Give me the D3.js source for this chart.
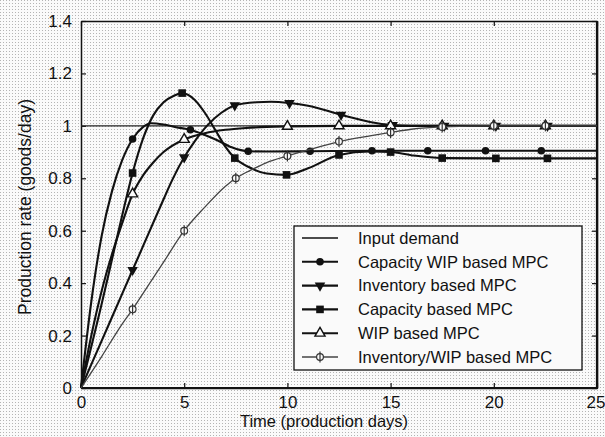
<!DOCTYPE html>
<meta charset="utf-8">
<style>
    body { margin: 0; background: #fff; }
    svg text { font-family: "Liberation Sans", Arial, Helvetica, sans-serif; fill: #111; }
</style>
<script src="https://cdn.jsdelivr.net/npm/d3@7/dist/d3.min.js"></script>
<body>
<script>
// values (time in production days, rate in goods/day)
var demandT = [0, 25];
var demandV = [1, 1];

var capWipT = [0, 0.5, 1, 1.5, 2, 2.5, 3, 3.4, 4, 4.6, 5.3, 6, 6.6, 7.3, 8.1, 9, 11.1, 14.1, 16.8, 19.6, 22.3, 25];
var capWipV = [0, 0.33, 0.58, 0.75, 0.87, 0.95, 0.995, 1.01, 1.005, 0.995, 0.985, 0.965, 0.945, 0.918, 0.903, 0.902, 0.903, 0.905, 0.905, 0.905, 0.905, 0.905];
var capWipMarks = [2.5, 5.3, 8.1, 11.1, 14.1, 16.8, 19.6, 22.3];

var invT = [0, 1, 2, 2.5, 3, 4, 4.4, 5, 5.5, 6.1, 6.8, 7.45, 8.5, 9.2, 10.1, 11, 12.6, 14, 15.1, 16, 17.6, 20.1, 22.6, 25];
var invV = [0, 0.18, 0.36, 0.45, 0.54, 0.72, 0.79, 0.88, 0.94, 1.0, 1.05, 1.078, 1.09, 1.092, 1.087, 1.077, 1.042, 1.015, 1.003, 1.0, 1.0, 1.0, 1.0, 1.0];
var invMarks = [2.5, 5, 7.45, 10.1, 12.6, 15.1, 17.6, 20.1, 22.6];

var capT = [0, 1, 1.5, 2, 2.5, 3, 3.5, 4, 4.5, 4.9, 5.5, 6, 6.5, 7, 7.45, 8.2, 9, 9.96, 11, 12.5, 14, 15, 16, 17.5, 20.1, 22.6, 25];
var capV = [0, 0.32, 0.49, 0.66, 0.82, 0.95, 1.04, 1.09, 1.115, 1.125, 1.1, 1.05, 0.985, 0.92, 0.877, 0.84, 0.818, 0.813, 0.838, 0.889, 0.902, 0.9, 0.888, 0.877, 0.876, 0.876, 0.876];
var capMarks = [2.5, 4.9, 7.45, 9.96, 12.5, 15, 17.5, 20.1, 22.6];

var wipT = [0, 0.5, 1, 1.5, 2, 2.5, 3, 3.5, 4, 5, 6, 7, 8, 9, 10, 12.5, 15, 17.5, 20, 22.5, 25];
var wipV = [0, 0.2, 0.37, 0.51, 0.63, 0.74, 0.81, 0.86, 0.9, 0.948, 0.972, 0.985, 0.992, 0.996, 0.998, 1, 1, 1, 1, 1, 1];
var wipMarks = [2.5, 5, 7.5, 10, 12.5, 15, 17.5, 20, 22.5];

var invWipT = [0, 1, 2, 2.5, 3, 4, 5, 6, 7, 7.5, 8.2, 9, 10, 11, 12.5, 14, 15, 16, 17.5, 20, 22.5, 25];
var invWipV = [0, 0.12, 0.245, 0.3, 0.36, 0.48, 0.6, 0.69, 0.77, 0.8, 0.83, 0.86, 0.885, 0.908, 0.94, 0.962, 0.975, 0.987, 0.996, 1, 1, 1];
var invWipMarks = [2.5, 5, 7.5, 10, 12.5, 15, 17.5, 20, 22.5];

var xTicks = [0, 5, 10, 15, 20, 25];
var yTicks = [0, 0.2, 0.4, 0.6, 0.8, 1, 1.2, 1.4];

var series = [
    {name: "Capacity WIP based MPC", t: capWipT, v: capWipV, marks: capWipMarks, sym: "circle"},
    {name: "Inventory based MPC", t: invT, v: invV, marks: invMarks, sym: "down"},
    {name: "Capacity based MPC", t: capT, v: capV, marks: capMarks, sym: "square"},
    {name: "WIP based MPC", t: wipT, v: wipV, marks: wipMarks, sym: "up"},
    {name: "Inventory/WIP based MPC", t: invWipT, v: invWipV, marks: invWipMarks, sym: "phi"}
];

var W = 605, H = 437;
var plotL = 81, plotR = 597, plotT = 21, plotB = 388;

var svg = d3.select("body").append("svg")
    .attr("width", W)
    .attr("height", H);

// halftone look of the scanned page
var pat = svg.append("defs").append("pattern")
    .attr("id", "dots")
    .attr("width", 3).attr("height", 3)
    .attr("patternUnits", "userSpaceOnUse");
pat.append("rect").attr("width", 3).attr("height", 3).attr("fill", "#fafafa");
pat.append("rect").attr("width", 1).attr("height", 1).attr("fill", "#b4b4b4");
svg.append("rect").attr("width", W).attr("height", H).attr("fill", "url(#dots)");

var x = d3.scaleLinear().domain([0, 25]).range([plotL, plotR]);
var y = d3.scaleLinear().domain([0, 1.4]).range([plotB, plotT]);

// axes with inward ticks
var fmt = function(d) { return d3.format("~g")(d); };
svg.append("g")
    .attr("transform", "translate(" + plotL + ",0)")
    .call(d3.axisLeft(y).tickValues(yTicks).tickFormat(fmt).tickSizeInner(-5).tickSizeOuter(0).tickPadding(9))
    .call(function(g) {
        g.selectAll("text").style("font-size", "17px").attr("font-family", null);
    });
svg.append("g")
    .attr("transform", "translate(" + plotR + ",0)")
    .call(d3.axisRight(y).tickValues(yTicks).tickFormat("").tickSizeInner(-5).tickSizeOuter(0));
svg.append("g")
    .attr("transform", "translate(0," + plotB + ")")
    .call(d3.axisBottom(x).tickValues(xTicks).tickFormat(fmt).tickSizeInner(-5).tickSizeOuter(0).tickPadding(8))
    .call(function(g) {
        g.selectAll("text").style("font-size", "17px").attr("font-family", null);
        // last label sits on the page edge
        g.selectAll(".tick").filter(function(d) { return d == 25; }).select("text")
            .attr("text-anchor", "end").attr("x", 8);
    });
svg.append("g")
    .attr("transform", "translate(0," + plotT + ")")
    .call(d3.axisTop(x).tickValues(xTicks).tickFormat("").tickSizeInner(-5).tickSizeOuter(0));
svg.selectAll(".domain").attr("stroke", "#111").attr("stroke-width", 1.5);
svg.selectAll(".tick line").attr("stroke", "#111").attr("stroke-width", 1.2);

// heavier frame on bottom and right like the reference
svg.append("line").attr("x1", plotL).attr("x2", plotR + 1).attr("y1", plotB).attr("y2", plotB)
    .attr("stroke", "#111").attr("stroke-width", 2.2);
svg.append("line").attr("x1", plotR).attr("x2", plotR).attr("y1", plotT).attr("y2", plotB)
    .attr("stroke", "#111").attr("stroke-width", 2.2);

// axis titles
svg.append("text")
    .attr("x", 324).attr("y", 427)
    .attr("text-anchor", "middle")
    .style("font-size", "16.5px")
    .text("Time (production days)");
svg.append("text")
    .attr("transform", "translate(31,207) rotate(-90)")
    .attr("text-anchor", "middle")
    .style("font-size", "17.5px")
    .text("Production rate (goods/day)");

// input demand
var line = d3.line()
    .x(function(d) { return x(d[0]); })
    .y(function(d) { return y(d[1]); });
svg.append("path")
    .datum(d3.zip(demandT, demandV))
    .attr("fill", "none")
    .attr("stroke", "#222")
    .attr("stroke-width", 1.1)
    .attr("d", line);

var smooth = d3.line()
    .curve(d3.curveMonotoneX)
    .x(function(d) { return x(d[0]); })
    .y(function(d) { return y(d[1]); });

var drawMark = function(g, sym, cx, cy) {
    var m = g.append("g").attr("transform", "translate(" + cx + "," + cy + ")");
    if (sym == "circle") {
        m.append("circle").attr("r", 3.8).attr("fill", "#111");
    } else if (sym == "square") {
        m.append("rect").attr("x", -3.8).attr("y", -3.8).attr("width", 7.6).attr("height", 7.6).attr("fill", "#111");
    } else if (sym == "down") {
        m.append("path").attr("d", d3.symbol(d3.symbolTriangle, 48)()).attr("transform", "rotate(180)").attr("fill", "#111");
    } else if (sym == "up") {
        m.append("path").attr("d", d3.symbol(d3.symbolTriangle, 44)()).attr("fill", "#fafafa").attr("stroke", "#111").attr("stroke-width", 1.4);
    } else {
        m.append("circle").attr("r", 3.4).attr("fill", "#fafafa").attr("stroke", "#333").attr("stroke-width", 1.2);
        m.append("line").attr("y1", -5.5).attr("y2", 5.5).attr("stroke", "#333").attr("stroke-width", 1.2);
    }
};

series.forEach(function(s) {
    var pts = d3.zip(s.t, s.v);
    var thin = s.sym == "phi";
    svg.append("path")
        .datum(pts)
        .attr("fill", "none")
        .attr("stroke", thin ? "#444" : "#111")
        .attr("stroke-width", thin ? 1.3 : 2.1)
        .attr("d", smooth);
    var g = svg.append("g");
    s.marks.forEach(function(m) {
        var p = pts.find(function(d) { return d[0] == m; });
        if (p) drawMark(g, s.sym, x(p[0]), y(p[1]));
    });
});

// legend
var lg = svg.append("g");
lg.append("rect")
    .attr("x", 294).attr("y", 226)
    .attr("width", 288).attr("height", 144)
    .attr("fill", "#fafafa")
    .attr("stroke", "#111").attr("stroke-width", 1.3);
var rows = [{name: "Input demand", sym: null}].concat(series);
rows.forEach(function(r, i) {
    var cy = 238 + i * 23.8;
    var thin = r.sym == "phi" || r.sym == null;
    lg.append("line")
        .attr("x1", 302).attr("x2", 338).attr("y1", cy).attr("y2", cy)
        .attr("stroke", r.sym == "phi" ? "#444" : "#111")
        .attr("stroke-width", thin ? 1.3 : 2.1);
    if (r.sym) drawMark(lg, r.sym, 320, cy);
    lg.append("text")
        .attr("x", 358).attr("y", cy)
        .attr("dy", "0.35em")
        .style("font-size", "16.5px")
        .text(r.name);
});
</script>
</body>
